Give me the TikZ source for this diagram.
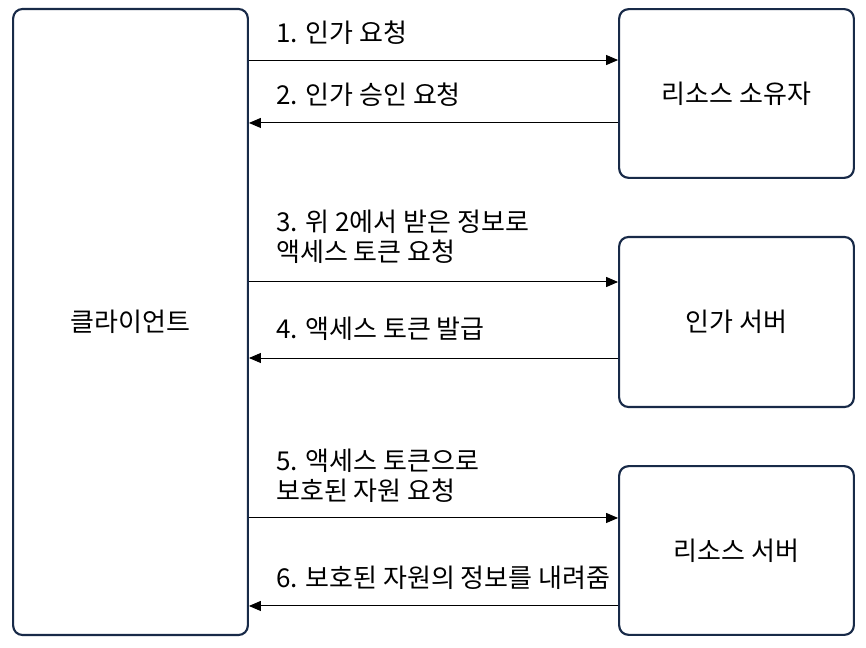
\documentclass[tikz,border=0pt]{standalone}
\usepackage{fontspec}
\setmainfont{Noto Sans CJK KR}
\usetikzlibrary{arrows.meta,positioning}
\definecolor{boxline}{RGB}{24,42,72}

\begin{document}
\begin{tikzpicture}[
    x=0.75pt, y=-0.75pt,
    font=\fontsize{19.5}{22.5}\selectfont,
    party/.style={draw=boxline, line width=1.6pt, rounded corners=7pt, align=center, minimum width=176pt},
    msg/.style={anchor=west, align=left, inner sep=0pt},
    arrow/.style={-{Triangle[length=9pt, width=7.5pt]}, line width=0.75pt}
  ]
    \useasboundingbox (0,0) rectangle (866,648);

    \node[party, minimum height=469.5pt] (client) at (130.5,322) {클라이언트};
    \node[party, minimum height=126.5pt] (owner) at (736.5,93.5) {리소스 소유자};
    \node[party, minimum height=127.5pt] (authsrv) at (736.5,322) {인가 서버};
    \node[party, minimum height=126.5pt] (ressrv) at (736.5,550.5) {리소스 서버};

    \node[msg] (m1) at (276,33) {1. 인가 요청};
    \node[msg] (m2) at (276,95) {2. 인가 승인 요청};
    \node[msg] (m3) at (276,237) {3. 위 2에서 받은 정보로\\액세스 토큰 요청};
    \node[msg] (m4) at (276,329) {4. 액세스 토큰 발급};
    \node[msg] (m5) at (276,476) {5. 액세스 토큰으로\\보호된 자원 요청};
    \node[msg] (m6) at (276,578) {6. 보호된 자원의 정보를 내려줌};

    \draw[arrow] ([yshift=25.1pt]owner.west -| client.east) -- ([yshift=25.1pt]owner.west);
    \draw[arrow] ([yshift=-22.1pt]owner.west) -- ([yshift=-22.1pt]owner.west -| client.east);
    \draw[arrow] ([yshift=30pt]authsrv.west -| client.east) -- ([yshift=30pt]authsrv.west);
    \draw[arrow] ([yshift=-27pt]authsrv.west) -- ([yshift=-27pt]authsrv.west -| client.east);
    \draw[arrow] ([yshift=24.4pt]ressrv.west -| client.east) -- ([yshift=24.4pt]ressrv.west);
    \draw[arrow] ([yshift=-41.6pt]ressrv.west) -- ([yshift=-41.6pt]ressrv.west -| client.east);
  \end{tikzpicture}
\end{document}
